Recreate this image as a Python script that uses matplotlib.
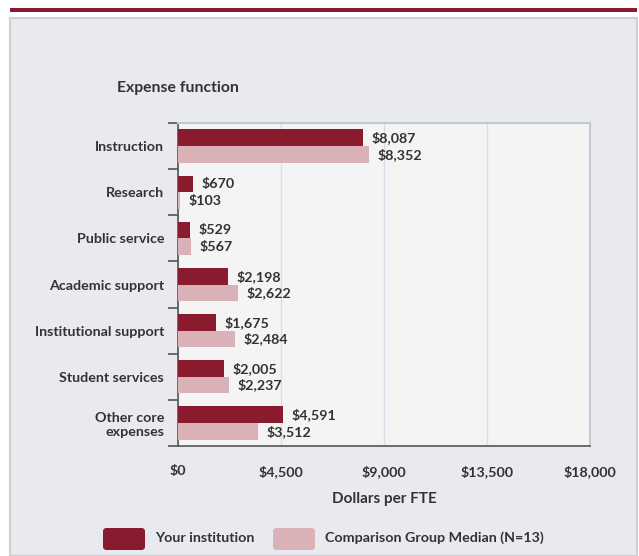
import matplotlib
matplotlib.use('Agg')
import matplotlib.pyplot as plt
from matplotlib.patches import Rectangle, FancyBboxPatch
from matplotlib.ticker import FixedLocator
import numpy as np

plt.rcParams['font.family'] = ['Lato', 'DejaVu Sans']

# data
categories = ['Instruction', 'Research', 'Public service', 'Academic support',
              'Institutional support', 'Student services', 'Other core\nexpenses']
your_institution = [8087, 670, 529, 2198, 1675, 2005, 4591]
comparison_median = [8352, 103, 567, 2622, 2484, 2237, 3512]
x_ticks = [0, 4500, 9000, 13500, 18000]

dark_red = '#8A1A2E'
pink = '#D9B1B7'
text_col = '#333333'
fs = 10.3

W, H = 639, 556
fig = plt.figure(figsize=(W / 100, H / 100), dpi=100)
fig.patch.set_facecolor('white')

# background panel and top band
fig.patches.append(Rectangle((10 / W, 0), 627 / W, (H - 18) / H, transform=fig.transFigure,
                             facecolor='#E9EAEF', edgecolor='#CFCFCF', linewidth=1.5, zorder=-10))
fig.patches.append(Rectangle((10 / W, (H - 12) / H), 627 / W, 4 / H, transform=fig.transFigure,
                             facecolor='#8B1A31', edgecolor='none', zorder=-10))

ax = fig.add_axes([178 / W, (H - 446) / H, 412 / W, 323 / H])
ax.set_facecolor('#F4F4F4')

y = np.arange(len(categories))
h = 0.36
ax.barh(y - h / 2, your_institution, height=h, color=dark_red, zorder=3)
ax.barh(y + h / 2, comparison_median, height=h, color=pink, zorder=3)

for yi, v in zip(y, your_institution):
    ax.annotate('${:,}'.format(v), (v, yi - h / 2), xytext=(6, 0), textcoords='offset points',
                va='center', ha='left', fontsize=fs, fontweight='bold', color=text_col)
for yi, v in zip(y, comparison_median):
    ax.annotate('${:,}'.format(v), (v, yi + h / 2), xytext=(6, 0), textcoords='offset points',
                va='center', ha='left', fontsize=fs, fontweight='bold', color=text_col)

ax.set_xlim(0, 18000)
ax.set_ylim(len(categories) - 0.5, -0.5)
ax.set_xticks(x_ticks)
ax.set_xticklabels(['${:,}'.format(t) for t in x_ticks], fontsize=fs, fontweight='bold', color=text_col)
ax.set_yticks(y)
ax.set_yticklabels(categories, fontsize=fs, fontweight='bold', color=text_col, multialignment='right')
ax.yaxis.set_minor_locator(FixedLocator(np.arange(-0.5, len(categories), 1)))
ax.tick_params(axis='y', which='major', length=0, pad=10)
ax.tick_params(axis='y', which='minor', length=7, width=1.2, color='#555555')
ax.tick_params(axis='x', length=0, pad=14)

ax.grid(axis='x', color='#D6DEEA', linewidth=1, zorder=0)
ax.set_axisbelow(True)
for s in ['left', 'bottom']:
    ax.spines[s].set_color('#555555')
    ax.spines[s].set_linewidth(1.2)
for s in ['top', 'right']:
    ax.spines[s].set_color('#C3C9D4')
    ax.spines[s].set_linewidth(1.5)

ax.set_xlabel('Dollars per FTE', fontsize=11, fontweight='bold', color=text_col, labelpad=10)
fig.text(117 / W, 1 - 88 / H, 'Expense function', fontsize=11.3, fontweight='bold', color=text_col,
         ha='left', va='center')

# legend
for x0, col, label in [(103, dark_red, 'Your institution'),
                       (273, pink, 'Comparison Group Median (N=13)')]:
    fig.patches.append(FancyBboxPatch((x0 / W, (H - 550) / H), 42 / W, 22 / H,
                                      boxstyle='round,pad=0,rounding_size=0.006',
                                      transform=fig.transFigure, facecolor=col, edgecolor='none'))
    fig.text((x0 + 52) / W, 1 - 538 / H, label, fontsize=fs, fontweight='bold', color=text_col,
             ha='left', va='center')

fig.savefig('out.png', dpi=100)
